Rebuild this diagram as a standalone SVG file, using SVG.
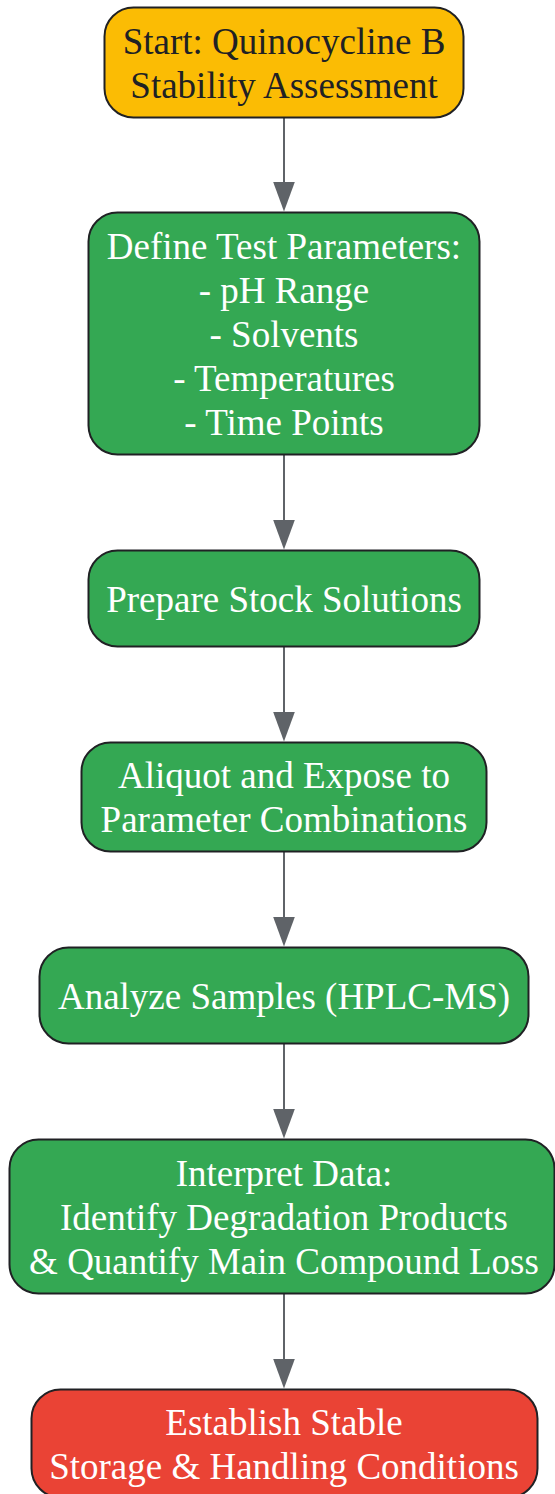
<svg xmlns="http://www.w3.org/2000/svg" width="555" height="1494" viewBox="0 0 555 1494">
<style>
.box{stroke:#202124;stroke-width:2}
.start{fill:#FBBC04}
.step{fill:#34A853}
.end{fill:#EA4335}
text{font-family:"Liberation Serif","Times New Roman",serif;font-size:37px;text-anchor:middle}
.dark{fill:#202124}
.light{fill:#FFFFFF}
.edge{stroke:#5F6368;stroke-width:2;fill:none;marker-end:url(#arrow)}
</style>
<defs>
<marker id="arrow" viewBox="0 0 30 22" refX="10" refY="11" markerWidth="30" markerHeight="22" markerUnits="userSpaceOnUse" orient="auto">
<path d="M0,0 L30,11 L0,22 z" fill="#5F6368"/>
</marker>
</defs>
<rect width="555" height="1494" fill="#FFFFFF"/>
<g id="connectors">
<path class="edge" d="M284,117.5 V191.5"/>
<path class="edge" d="M284,454.5 V529.5"/>
<path class="edge" d="M284,646.5 V721.5"/>
<path class="edge" d="M284,851.5 V926.5"/>
<path class="edge" d="M284,1043.5 V1118.5"/>
<path class="edge" d="M284,1293.5 V1368.5"/>
</g>
<g id="start">
<rect class="box start" x="104.5" y="7.5" width="359" height="110" rx="29"/>
<text class="dark" x="284" y="53.5">Start: Quinocycline B</text>
<text class="dark" x="284" y="97.5">Stability Assessment</text>
</g>
<g id="define">
<rect class="box step" x="88.5" y="212.5" width="391" height="242" rx="29"/>
<text class="light" x="284" y="258.5">Define Test Parameters:</text>
<text class="light" x="284" y="302.5">- pH Range</text>
<text class="light" x="284" y="346.5">- Solvents</text>
<text class="light" x="284" y="390.5">- Temperatures</text>
<text class="light" x="284" y="434.5">- Time Points</text>
</g>
<g id="prepare">
<rect class="box step" x="88.5" y="550.5" width="391" height="96" rx="29"/>
<text class="light" x="284" y="611.5">Prepare Stock Solutions</text>
</g>
<g id="aliquot">
<rect class="box step" x="81.5" y="742.5" width="405" height="109" rx="29"/>
<text class="light" x="284" y="788">Aliquot and Expose to</text>
<text class="light" x="284" y="832">Parameter Combinations</text>
</g>
<g id="analyze">
<rect class="box step" x="39.5" y="947.5" width="489" height="96" rx="29"/>
<text class="light" x="284" y="1008.5">Analyze Samples (HPLC-MS)</text>
</g>
<g id="interpret">
<rect class="box step" x="9.5" y="1139.5" width="545" height="154" rx="29"/>
<text class="light" x="284" y="1185.5">Interpret Data:</text>
<text class="light" x="284" y="1229.5">Identify Degradation Products</text>
<text class="light" x="284" y="1273.5">&amp; Quantify Main Compound Loss</text>
</g>
<g id="establish">
<rect class="box end" x="31.5" y="1389.5" width="506" height="108" rx="29"/>
<text class="light" x="284" y="1434.5">Establish Stable</text>
<text class="light" x="284" y="1478.5">Storage &amp; Handling Conditions</text>
</g>
</svg>
